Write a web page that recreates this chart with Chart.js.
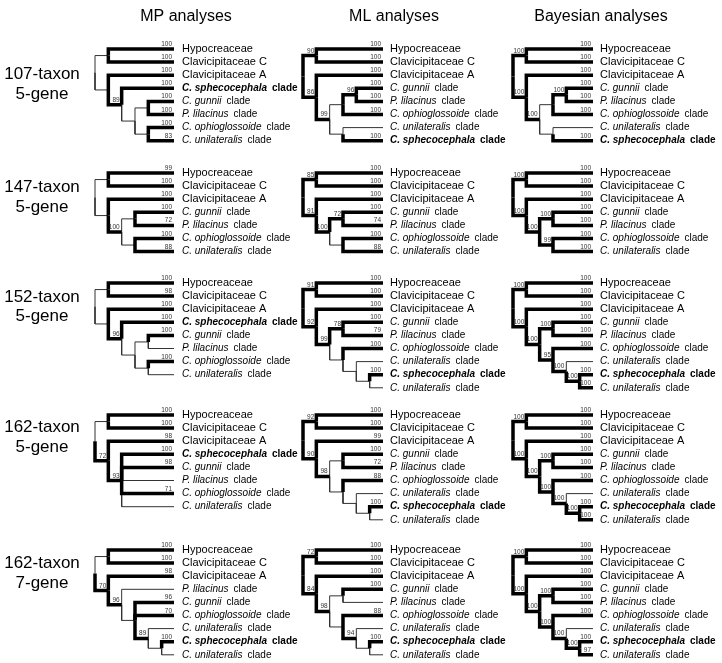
<!DOCTYPE html>
<html>
<head>
<meta charset="utf-8">
<script src="https://cdn.jsdelivr.net/npm/chart.js@4"></script>
<style>
  html, body { margin: 0; padding: 0; background: #fff; }
  canvas { display: block; }
</style>
</head>
<body>
<canvas id="treeChart" width="722" height="663"></canvas>
<script>
// column titles and row (dataset) names
const analyses = ['MP analyses', 'ML analyses', 'Bayesian analyses'];
const datasetNames = [
    ['107-taxon', '5-gene'],
    ['147-taxon', '5-gene'],
    ['152-taxon', '5-gene'],
    ['162-taxon', '5-gene'],
    ['162-taxon', '7-gene']
];

// tip codes used in the tree strings
const taxonNames = {
    H: 'Hypocreaceae',
    C: 'Clavicipitaceae C',
    A: 'Clavicipitaceae A',
    S: 'C. sphecocephala clade',
    G: 'C. gunnii clade',
    L: 'P. lilacinus clade',
    O: 'C. ophioglossoide clade',
    U: 'C. unilateralis clade'
};

// topologies, number after a tip or ")" = support value
const mpTrees = [
    '((H100,C100),(A100,(S100,((G100,L100),(O100,U83)))89))',
    '((H99,C100),(A100,((G100,L72),(O100,U88))100))',
    '((H100,C98),(A100,(S100,((G100,L),(O100,U)))96))',
    '((H100,C100),(A98,(S100,G98,L,O71,U)93)72)',
    '((H100,C100),(A98,(L,(G96,O70,(U,(S100,U))89))96)70)'
];
const mlTrees = [
    '((H100,C100)90,(A100,(((G100,L100)96,O100),(U,S100))99)86)',
    '((H100,C100)85,(A100,((G100,L74)72,(O100,U88))100)91)',
    '((H100,C100)91,(A100,((G100,L79)78,(O100,(U,(S100,U))))99)92)',
    '((H100,C100)92,(A99,((G100,L72),(O88,(U,(S100,U))))98)90)',
    '((H100,C100)72,(A100,((G100,L),(O88,(U,(S100,U))94))98)84)'
];
const bayesTrees = [
    '((H100,C100)100,(A100,(((G100,L100)100,O100),(U,S100))100)100)',
    '((H100,C100)100,(A100,((G100,L100)100,(O100,U100)99)100)100)',
    '((H100,C100)100,(A100,((G100,L100)100,(O100,(U,(S100,U100)100)100)95)100)100)',
    '((H100,C100)100,(A100,((G100,L100)100,(O100,(U,(S100,U100)100)100)100)100)100)',
    '((H100,C100)100,(A100,((G100,L100)100,(O100,(U,(S100,U97)100)100)100)100)100)'
];

// page layout
const columnRootX = [95, 303, 513];
const columnTipX = [174, 383, 593];
const columnLabelX = [182, 390, 600];
const titleX = [186, 394, 601];
const rowTopY = [49, 173, 283, 415, 550];
const rowLabelY = [[74, 94], [187, 207], [297, 316], [427, 447], [563, 583]];
const depthStep = 13.33;
const tipStep = 13.1;
const FONT = '"Liberation Sans", Arial, sans-serif';

function parseTree(s) {
    let i = 0;
    function readNum() {
        const m = /^\d+/.exec(s.slice(i));
        if (m) { i += m[0].length; return +m[0]; }
        return null;
    }
    function node() {
        if (s[i] === '(') {
            i++;
            const children = [node()];
            while (s[i] === ',') { i++; children.push(node()); }
            i++;
            return { children, support: readNum() };
        }
        const code = s[i++];
        return { code, support: readNum() };
    }
    return node();
}

function layoutTree(tree, rootX, tipX, topY) {
    let row = 0;
    (function walk(n, depth) {
        if (n.children) {
            n.children.forEach(c => walk(c, depth + 1));
            n.x = rootX + depth * depthStep;
            n.y = (n.children[0].y + n.children[n.children.length - 1].y) / 2;
        } else {
            n.x = tipX;
            n.y = topY + row++ * tipStep;
        }
    })(tree, 0);
    return tree;
}

const trees = [];
[mpTrees, mlTrees, bayesTrees].forEach((list, col) => {
    list.forEach((str, row) => {
        const t = layoutTree(parseTree(str), columnRootX[col], columnTipX[col], rowTopY[row]);
        trees.push({ tree: t, col, row });
    });
});

// every branch is an L: down the parent's vertical, then across to the node
const thick = [], thin = [];
trees.forEach(({ tree }) => {
    (function walk(n) {
        if (!n.children) return;
        n.children.forEach(c => {
            const ds = {
                data: [{ x: n.x, y: n.y }, { x: n.x, y: c.y }, { x: c.x, y: c.y }],
                showLine: true,
                pointRadius: 0,
                borderCapStyle: 'butt',
                borderJoinStyle: 'miter'
            };
            if (c.support != null) {
                ds.borderWidth = 3.5;
                ds.borderColor = '#000';
                thick.push(ds);
            } else {
                ds.borderWidth = 1;
                ds.borderColor = '#333';
                thin.push(ds);
            }
            walk(c);
        });
    })(tree);
});

const treeText = {
    id: 'treeText',
    afterDatasetsDraw(chart) {
        const ctx = chart.ctx;
        const px = v => chart.scales.x.getPixelForValue(v);
        const py = v => chart.scales.y.getPixelForValue(v);
        ctx.save();
        ctx.fillStyle = '#000';

        ctx.font = '16px ' + FONT;
        ctx.textAlign = 'center';
        ctx.textBaseline = 'alphabetic';
        analyses.forEach((t, i) => ctx.fillText(t, px(titleX[i]), py(21)));

        ctx.font = '17px ' + FONT;
        ctx.textBaseline = 'middle';
        datasetNames.forEach((lines, r) => {
            lines.forEach((t, k) => ctx.fillText(t, px(42), py(rowLabelY[r][k])));
        });

        trees.forEach(({ tree, col }) => {
            (function walk(n) {
                if (n.support != null) {
                    ctx.font = '6.5px ' + FONT;
                    ctx.fillStyle = '#333';
                    ctx.textAlign = 'right';
                    ctx.textBaseline = 'alphabetic';
                    ctx.fillText(String(n.support), px(n.x) - 2, py(n.y) - 3);
                }
                if (n.children) { n.children.forEach(walk); return; }
                const name = taxonNames[n.code];
                const lx = px(columnLabelX[col]);
                const ly = py(n.y);
                ctx.fillStyle = '#000';
                ctx.textAlign = 'left';
                ctx.textBaseline = 'middle';
                if (name.endsWith(' clade')) {
                    const bold = n.code === 'S' ? 'bold ' : '';
                    const sp = name.slice(0, -6);
                    ctx.font = 'italic ' + bold + '10px ' + FONT;
                    ctx.fillText(sp, lx, ly);
                    const w = ctx.measureText(sp).width;
                    ctx.font = bold + '10px ' + FONT;
                    ctx.fillText('clade', lx + w + 5, ly);
                } else {
                    ctx.font = '11px ' + FONT;
                    ctx.fillText(name, lx, ly);
                }
            })(tree);
        });
        ctx.restore();
    }
};

new Chart(document.getElementById('treeChart').getContext('2d'), {
    type: 'scatter',
    data: { datasets: thick.concat(thin) },
    options: {
        responsive: false,
        animation: false,
        layout: { padding: 0 },
        scales: {
            x: { type: 'linear', min: 0, max: 722, display: false },
            y: { type: 'linear', min: 0, max: 663, reverse: true, display: false }
        },
        plugins: {
            legend: { display: false },
            tooltip: { enabled: false }
        }
    },
    plugins: [treeText]
});
</script>
</body>
</html>
